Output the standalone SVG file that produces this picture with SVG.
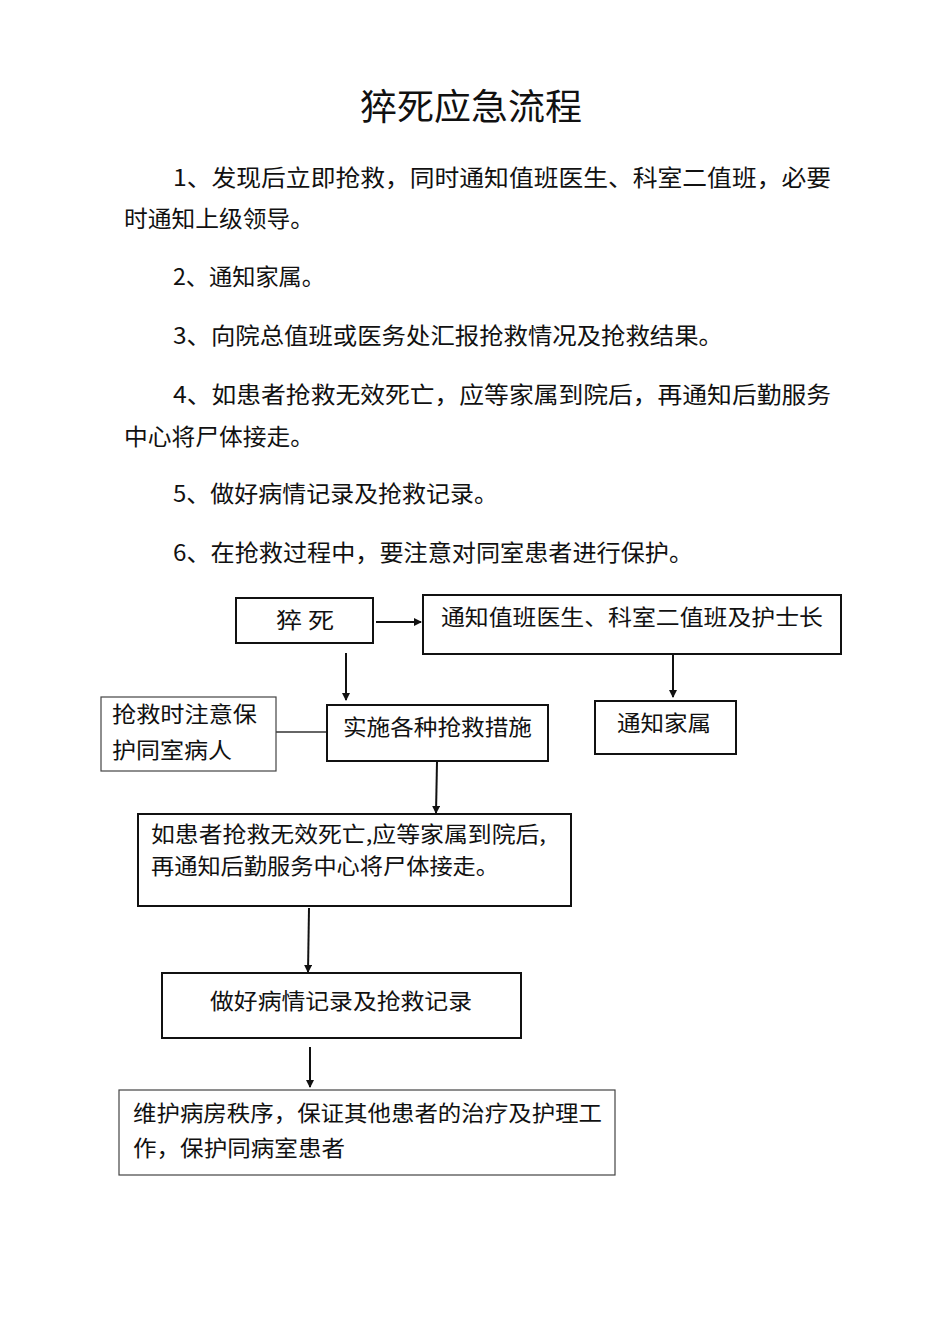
<svg xmlns="http://www.w3.org/2000/svg" width="950" height="1344" viewBox="0 0 950 1344">
<style>
text{font-family:"Noto Sans CJK SC","Noto Sans",sans-serif;fill:#111}
.b{font-size:23px}
.f{font-size:22px}
.box{fill:#fff;stroke:#111;stroke-width:2}
.thin{fill:#fff;stroke:#444;stroke-width:1.2}
.c{stroke:#111;stroke-width:2;fill:none;marker-end:url(#ah)}
</style>
<defs><marker id="ah" markerWidth="8" markerHeight="8" refX="7" refY="4" orient="auto" markerUnits="userSpaceOnUse"><path d="M0,0 L8,4 L0,8 Z" fill="#111"/></marker></defs>
<rect width="950" height="1344" fill="#fff"/>
<text x="471" y="120" font-size="36" text-anchor="middle" textLength="222" lengthAdjust="spacingAndGlyphs">猝死应急流程</text>
<g class="b">
<text x="173" y="186" textLength="658" lengthAdjust="spacingAndGlyphs">1、发现后立即抢救，同时通知值班医生、科室二值班，必要</text>
<text x="124" y="227" textLength="190" lengthAdjust="spacingAndGlyphs">时通知上级领导。</text>
<text x="173" y="285" textLength="152" lengthAdjust="spacingAndGlyphs">2、通知家属。</text>
<text x="173" y="344" textLength="550" lengthAdjust="spacingAndGlyphs">3、向院总值班或医务处汇报抢救情况及抢救结果。</text>
<text x="173" y="403" textLength="658" lengthAdjust="spacingAndGlyphs">4、如患者抢救无效死亡，应等家属到院后，再通知后勤服务</text>
<text x="124" y="445" textLength="190" lengthAdjust="spacingAndGlyphs">中心将尸体接走。</text>
<text x="173" y="502" textLength="325" lengthAdjust="spacingAndGlyphs">5、做好病情记录及抢救记录。</text>
<text x="173" y="561" textLength="520" lengthAdjust="spacingAndGlyphs">6、在抢救过程中，要注意对同室患者进行保护。</text>
</g>
<g id="connectors">
<path class="c" d="M376,622 L421,622"/>
<path class="c" d="M346,653 L346,700"/>
<path class="c" d="M673,655 L673,697"/>
<path d="M276,732 L327,732" stroke="#333" stroke-width="1.5"/>
<path class="c" d="M437,762 L436,813"/>
<path class="c" d="M309,908 L308,972"/>
<path class="c" d="M310,1047 L310,1087"/>
</g>
<g id="n1"><rect class="box" x="236" y="598" width="137" height="45"/><text class="f" x="276" y="628" textLength="58" lengthAdjust="spacingAndGlyphs">猝 死</text></g>
<g id="n2"><rect class="box" x="423" y="595" width="418" height="59"/><text class="f" x="441" y="625" textLength="382" lengthAdjust="spacingAndGlyphs">通知值班医生、科室二值班及护士长</text></g>
<g id="n3"><rect class="box" x="595" y="701" width="141" height="53"/><text class="f" x="617" y="731" textLength="94" lengthAdjust="spacingAndGlyphs">通知家属</text></g>
<g id="n4"><rect class="thin" x="101" y="697" width="175" height="74"/><text class="f" x="112" y="722" textLength="145" lengthAdjust="spacingAndGlyphs">抢救时注意保</text><text class="f" x="112" y="758" textLength="120" lengthAdjust="spacingAndGlyphs">护同室病人</text></g>
<g id="n5"><rect class="box" x="327" y="705" width="221" height="56"/><text class="f" x="343" y="735" textLength="189" lengthAdjust="spacingAndGlyphs">实施各种抢救措施</text></g>
<g id="n6"><rect class="box" x="138" y="814" width="433" height="92"/><text class="f" x="151" y="842" textLength="395" lengthAdjust="spacingAndGlyphs">如患者抢救无效死亡,应等家属到院后,</text><text class="f" x="151" y="874" textLength="348" lengthAdjust="spacingAndGlyphs">再通知后勤服务中心将尸体接走。</text></g>
<g id="n7"><rect class="box" x="162" y="973" width="359" height="65"/><text class="f" x="210" y="1009" textLength="262" lengthAdjust="spacingAndGlyphs">做好病情记录及抢救记录</text></g>
<g id="n8"><rect class="thin" x="119" y="1090" width="496" height="85"/><text class="f" x="133" y="1121" textLength="469" lengthAdjust="spacingAndGlyphs">维护病房秩序，保证其他患者的治疗及护理工</text><text class="f" x="133" y="1156" textLength="212" lengthAdjust="spacingAndGlyphs">作，保护同病室患者</text></g>
</svg>
